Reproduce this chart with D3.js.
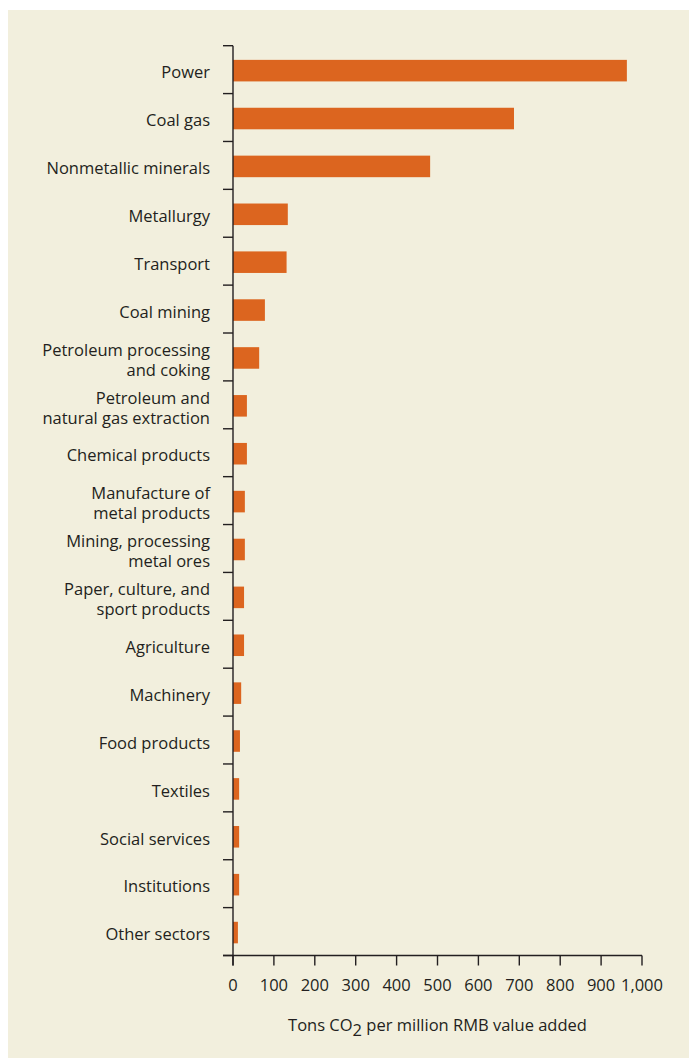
<!DOCTYPE html>
<html lang="en">
<head>
    <meta charset="UTF-8">
    <title>CO2 intensity by sector</title>
    <script src="https://d3js.org/d3.v7.min.js"></script>
    <style>
        html, body { margin: 0; padding: 0; background: #ffffff; }
        svg text { font-family: "Open Sans", "Noto Sans", sans-serif; fill: #231f20; }
    </style>
</head>
<body>
    <svg width="689" height="1058"></svg>

    <script>
        // sectors, top to bottom
        var sectors = [
            "Power", "Coal gas", "Nonmetallic minerals", "Metallurgy", "Transport",
            "Coal mining", "Petroleum processing\nand coking", "Petroleum and\nnatural gas extraction",
            "Chemical products", "Manufacture of\nmetal products", "Mining, processing\nmetal ores",
            "Paper, culture, and\nsport products", "Agriculture", "Machinery", "Food products",
            "Textiles", "Social services", "Institutions", "Other sectors"
        ];
        // tons CO2 per million RMB value added
        var values = [963, 687, 482, 134, 131, 78, 64, 34, 34, 29, 29, 27, 27, 20, 17, 15, 15, 15, 12];
        var xTicks = [0, 100, 200, 300, 400, 500, 600, 700, 800, 900, 1000];

        var fontSize = 16.5;
        var svg = d3.select("svg");

        // beige panel
        svg.append("rect")
           .attr("x", 8).attr("y", 10)
           .attr("width", 681).attr("height", 1048)
           .attr("fill", "#f2efdd");

        var x = d3.scaleLinear().domain([0, 1000]).range([233, 642]);
        var y = d3.scaleBand().domain(sectors).range([45.7, 955.5])
                  .paddingInner(0.55).paddingOuter(0.275);

        // bars
        svg.selectAll("rect.bar")
           .data(values)
           .enter()
           .append("rect")
           .attr("class", "bar")
           .attr("x", x(0))
           .attr("y", function(d, i) { return y(sectors[i]) + 1; })
           .attr("width", function(d) { return x(d) - x(0); })
           .attr("height", y.bandwidth())
           .attr("fill", "#dc651f");

        // y axis: line plus ticks at the band boundaries
        var bounds = sectors.map(function(s) { return y(s) - y.step() * y.paddingOuter(); });
        bounds.push(bounds[bounds.length - 1] + y.step());

        svg.append("line")
           .attr("x1", x(0)).attr("x2", x(0))
           .attr("y1", bounds[0]).attr("y2", bounds[bounds.length - 1] + 10)
           .attr("stroke", "#231f20").attr("stroke-width", 1.4);

        svg.selectAll("line.ytick")
           .data(bounds)
           .enter()
           .append("line")
           .attr("class", "ytick")
           .attr("x1", x(0) - 10).attr("x2", x(0))
           .attr("y1", function(d) { return d; }).attr("y2", function(d) { return d; })
           .attr("stroke", "#231f20").attr("stroke-width", 1.4);

        // category labels (some are two lines)
        var labels = svg.selectAll("text.cat")
           .data(sectors)
           .enter()
           .append("text")
           .attr("class", "cat")
           .attr("text-anchor", "end")
           .attr("font-size", fontSize)
           .attr("x", 210)
           .attr("y", function(d) { return y(d) + y.bandwidth() / 2 + 3; });

        labels.each(function(d) {
            var lines = d.split("\n");
            var t = d3.select(this);
            lines.forEach(function(l, i) {
                t.append("tspan")
                 .attr("x", 210)
                 .attr("dy", i === 0 ? (lines.length === 1 ? "0.35em" : "-0.25em") : "1.2em")
                 .text(l);
            });
        });

        // x axis
        var axisY = bounds[bounds.length - 1];
        svg.append("line")
           .attr("x1", x(0) - 10).attr("x2", x(1000))
           .attr("y1", axisY).attr("y2", axisY)
           .attr("stroke", "#231f20").attr("stroke-width", 1.4);

        svg.selectAll("line.xtick")
           .data(xTicks)
           .enter()
           .append("line")
           .attr("class", "xtick")
           .attr("x1", function(d) { return x(d); }).attr("x2", function(d) { return x(d); })
           .attr("y1", axisY).attr("y2", axisY + 10)
           .attr("stroke", "#231f20").attr("stroke-width", 1.4);

        svg.selectAll("text.xlab")
           .data(xTicks)
           .enter()
           .append("text")
           .attr("class", "xlab")
           .attr("text-anchor", "middle")
           .attr("font-size", fontSize)
           .attr("x", function(d) { return x(d); })
           .attr("y", axisY + 35)
           .text(function(d) { return d3.format(",")(d); });

        // axis title with subscript 2
        var title = svg.append("text")
           .attr("text-anchor", "middle")
           .attr("font-size", fontSize)
           .attr("x", (x(0) + x(1000)) / 2)
           .attr("y", axisY + 75);
        title.append("tspan").text("Tons CO");
        title.append("tspan").attr("dy", 5).text("2");
        title.append("tspan").attr("dy", -5).text(" per million RMB value added");
    </script>
</body>
</html>
